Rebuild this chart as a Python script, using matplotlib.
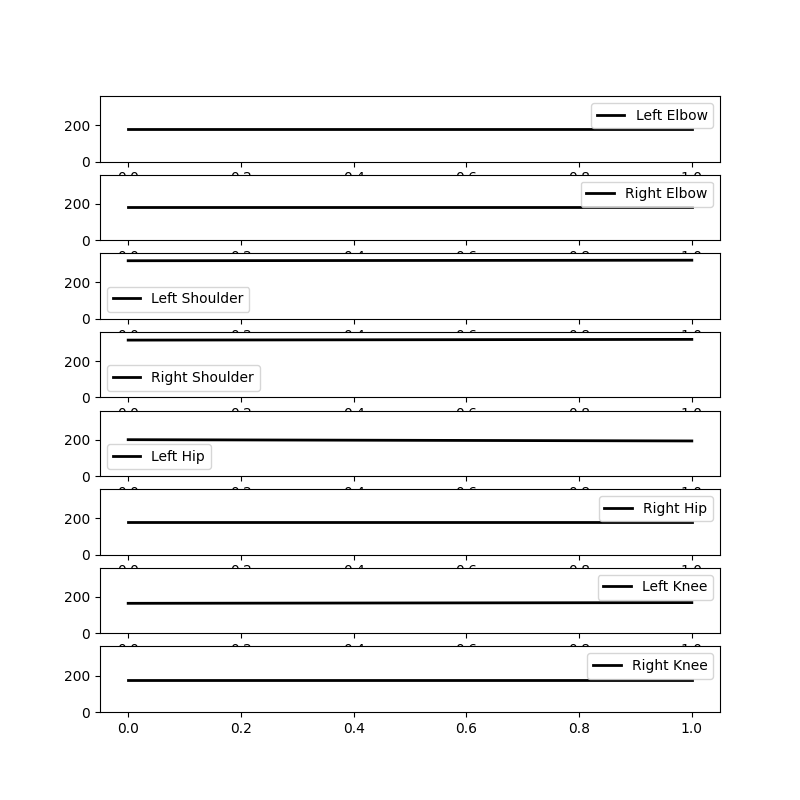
import matplotlib
matplotlib.use("Agg")
import matplotlib.pyplot as plt

# joint angles (degrees) at start and end of the sequence
frames = [0, 1]
joint_names = ['Left Elbow', 'Right Elbow', 'Left Shoulder', 'Right Shoulder',
               'Left Hip', 'Right Hip', 'Left Knee', 'Right Knee']
left_elbow = [178, 178]
right_elbow = [180, 180]
left_shoulder = [319, 322]
right_shoulder = [315, 319]
left_hip = [200, 193]
right_hip = [180, 180]
left_knee = [165, 169]
right_knee = [178, 178]

angles = [left_elbow, right_elbow, left_shoulder, right_shoulder,
          left_hip, right_hip, left_knee, right_knee]

fig, axes = plt.subplots(len(joint_names), 1, figsize=(8, 8))

for ax, name, vals in zip(axes, joint_names, angles):
    ax.plot(frames, vals, color='black', linewidth=2, label=name)
    ax.set_ylim(0, 360)
    ax.legend()

plt.savefig('out.png', dpi=100)
